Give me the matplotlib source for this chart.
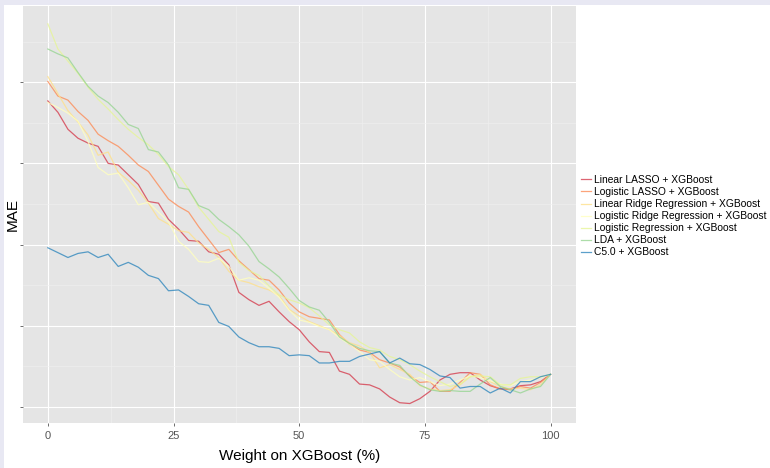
import numpy as np
import matplotlib
matplotlib.use('Agg')
import matplotlib.pyplot as plt
from matplotlib.patches import Rectangle

plt.rcParams['font.family'] = ['Liberation Sans', 'DejaVu Sans']

# weight on XGBoost (%), read every 2 points
weight = list(range(0, 101, 2))

# MAE values (arbitrary units, y tick labels are blank in the original)
linear_lasso = [4.77, 4.63, 4.42, 4.31, 4.25, 4.21, 4.00, 3.98, 3.86, 3.74,
                3.53, 3.51, 3.31, 3.19, 3.05, 3.04, 2.91, 2.88, 2.75, 2.41,
                2.32, 2.25, 2.30, 2.17, 2.05, 1.95, 1.80, 1.68, 1.67, 1.44,
                1.40, 1.28, 1.27, 1.22, 1.12, 1.05, 1.04, 1.10, 1.19, 1.33,
                1.40, 1.42, 1.42, 1.33, 1.26, 1.22, 1.22, 1.26, 1.27, 1.31, 1.40]
logistic_lasso = [5.01, 4.83, 4.78, 4.64, 4.53, 4.36, 4.28, 4.21, 4.10, 3.98,
                  3.90, 3.73, 3.56, 3.47, 3.40, 3.22, 3.06, 2.90, 2.94, 2.80,
                  2.69, 2.58, 2.56, 2.44, 2.28, 2.17, 2.11, 2.09, 2.07, 1.89,
                  1.77, 1.70, 1.67, 1.58, 1.54, 1.49, 1.38, 1.30, 1.31, 1.19,
                  1.19, 1.30, 1.42, 1.40, 1.27, 1.22, 1.21, 1.25, 1.23, 1.30, 1.40]
linear_ridge = [5.07, 4.86, 4.65, 4.51, 4.35, 4.10, 4.14, 3.89, 3.79, 3.67,
                3.51, 3.32, 3.25, 3.17, 3.15, 3.02, 2.94, 2.84, 2.67, 2.56,
                2.53, 2.48, 2.44, 2.37, 2.20, 2.12, 2.05, 2.00, 1.95, 1.88,
                1.79, 1.75, 1.67, 1.48, 1.52, 1.46, 1.40, 1.26, 1.22, 1.20,
                1.21, 1.27, 1.37, 1.40, 1.31, 1.25, 1.22, 1.23, 1.21, 1.27, 1.40]
logistic_ridge = [4.75, 4.69, 4.62, 4.52, 4.27, 3.95, 3.86, 3.88, 3.70, 3.49,
                  3.52, 3.40, 3.28, 3.04, 2.94, 2.79, 2.78, 2.83, 2.73, 2.56,
                  2.59, 2.56, 2.46, 2.35, 2.19, 2.07, 2.04, 1.99, 1.95, 1.85,
                  1.77, 1.68, 1.58, 1.56, 1.46, 1.37, 1.33, 1.36, 1.31, 1.26,
                  1.28, 1.33, 1.38, 1.36, 1.32, 1.28, 1.26, 1.31, 1.33, 1.36, 1.40]
logistic_reg = [5.72, 5.41, 5.26, 5.11, 4.94, 4.79, 4.67, 4.54, 4.42, 4.32,
                4.23, 4.11, 3.96, 3.86, 3.68, 3.46, 3.31, 3.16, 3.09, 2.78,
                2.68, 2.62, 2.49, 2.38, 2.32, 2.28, 2.22, 2.12, 2.01, 1.95,
                1.91, 1.80, 1.73, 1.70, 1.62, 1.58, 1.52, 1.44, 1.37, 1.31,
                1.25, 1.28, 1.37, 1.38, 1.37, 1.27, 1.27, 1.35, 1.37, 1.37, 1.40]
lda = [5.41, 5.35, 5.30, 5.12, 4.95, 4.83, 4.75, 4.63, 4.48, 4.43,
       4.17, 4.14, 3.98, 3.70, 3.68, 3.48, 3.43, 3.31, 3.22, 3.12,
       2.98, 2.79, 2.70, 2.60, 2.46, 2.31, 2.23, 2.19, 2.04, 1.86,
       1.78, 1.72, 1.69, 1.68, 1.54, 1.51, 1.37, 1.27, 1.21, 1.19,
       1.20, 1.19, 1.19, 1.28, 1.36, 1.25, 1.21, 1.17, 1.22, 1.25, 1.40]
c50 = [2.96, 2.90, 2.84, 2.89, 2.91, 2.84, 2.88, 2.73, 2.78, 2.72,
       2.62, 2.58, 2.43, 2.44, 2.36, 2.27, 2.25, 2.04, 1.99, 1.86,
       1.79, 1.74, 1.74, 1.72, 1.63, 1.64, 1.63, 1.54, 1.54, 1.56,
       1.56, 1.62, 1.65, 1.68, 1.54, 1.60, 1.53, 1.52, 1.46, 1.38,
       1.36, 1.23, 1.25, 1.25, 1.17, 1.23, 1.17, 1.31, 1.31, 1.37, 1.40]

labels = ['Linear LASSO + XGBoost', 'Logistic LASSO + XGBoost',
          'Linear Ridge Regression + XGBoost', 'Logistic Ridge Regression + XGBoost',
          'Logistic Regression + XGBoost', 'LDA + XGBoost', 'C5.0 + XGBoost']
series = [linear_lasso, logistic_lasso, linear_ridge, logistic_ridge,
          logistic_reg, lda, c50]
# RColorBrewer Spectral, 7 classes
colors = ['#D53E4F', '#FC8D59', '#FEE08B', '#FFFFBF', '#E6F598', '#99D594', '#3288BD']

fig = plt.figure(figsize=(7.70, 4.68), dpi=100)
fig.patch.set_facecolor('#e8e8f3')
# white page with a thin lavender strip on top and left
fig.add_artist(Rectangle((4 / 770, 0), 1, 1 - 5 / 468, transform=fig.transFigure,
                         facecolor='white', edgecolor='none', zorder=0))

ax = fig.add_axes([22.7 / 770, 1 - 423 / 468, (575.7 - 22.7) / 770, (423 - 6) / 468])
ax.set_facecolor('#e5e5e5')

for vals, lab, col in zip(series, labels, colors):
    ax.plot(weight, vals, color=col, lw=0.9, alpha=0.8, label=lab)

ax.set_xlim(-5, 105)
ax.set_ylim(0.80, 5.94)
ax.set_xticks([0, 25, 50, 75, 100])
ax.set_xticks([12.5, 37.5, 62.5, 87.5], minor=True)
ax.set_yticks([1, 2, 3, 4, 5])
ax.set_yticks([1.5, 2.5, 3.5, 4.5, 5.5], minor=True)
ax.set_yticklabels([])
ax.grid(which='major', color='white', lw=0.8)
ax.grid(which='minor', color='#f0f0f0', lw=0.4)
ax.set_axisbelow(True)
for s in ax.spines.values():
    s.set_visible(False)
ax.tick_params(which='major', length=2.5, width=0.6, color='#555555',
               labelsize=8, labelcolor='#555555', pad=3)
ax.tick_params(which='minor', length=0)

ax.set_xlabel('Weight on XGBoost (%)', fontsize=11, labelpad=6)
ax.set_ylabel('MAE', fontsize=11)
ax.yaxis.set_label_coords(-0.005, 0.5)

fig.legend(loc='upper left', bbox_to_anchor=(581 / 770, 1 - 175 / 468),
           frameon=False, fontsize=7.4, handlelength=1.0, handletextpad=0.3,
           labelspacing=0.2, borderpad=0, borderaxespad=0)

fig.savefig('out.png', dpi=100)
